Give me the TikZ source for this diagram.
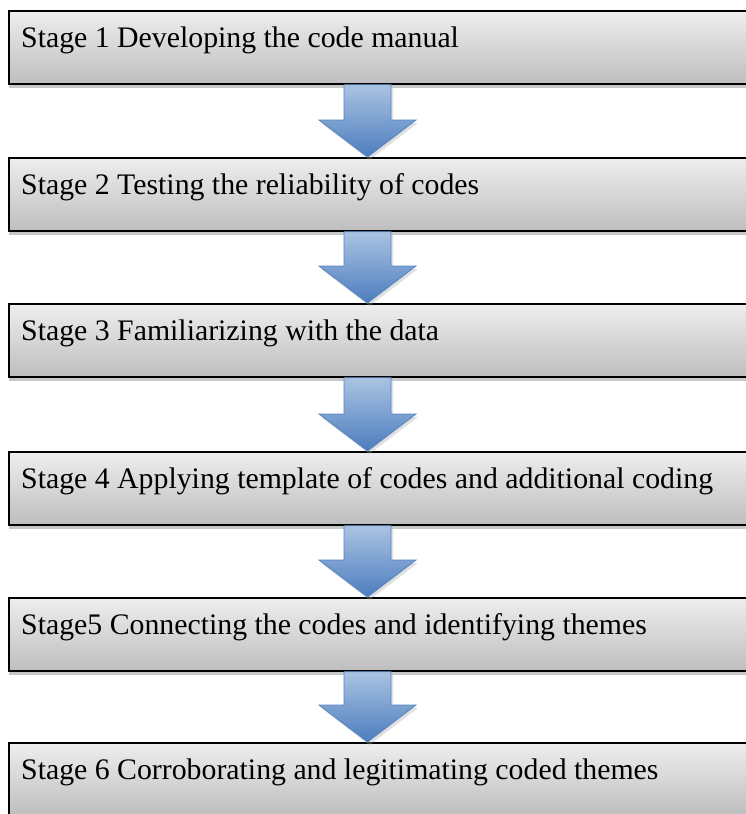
\documentclass[tikz,border=0pt]{standalone}
\usepackage{fontspec}
\setmainfont{Liberation Serif}
\usetikzlibrary{calc,shadows}
\definecolor{boxtop}{HTML}{EEEEEE}
\definecolor{boxbot}{HTML}{BEBEBE}
\definecolor{arrtop}{HTML}{AAC3E2}
\definecolor{arrbot}{HTML}{4C7DBE}
\definecolor{arredge}{HTML}{5685C2}
\tikzset{
  stagebox/.style={draw=black, line width=1.7pt, top color=boxtop, bottom color=boxbot,
    minimum width=760pt, minimum height=73pt, anchor=north west, inner sep=0pt,
    drop shadow={shadow xshift=0pt, shadow yshift=-4pt, fill=black!22, opacity=1}},
  stagetext/.style={anchor=base west, inner sep=0pt, font=\fontsize{29.8pt}{32pt}\selectfont},
  flowarrow/.style={top color=arrtop, bottom color=arrbot, draw=arredge, line width=0.8pt,
    line join=miter,
    drop shadow={shadow xshift=2pt, shadow yshift=-3pt, fill=black!35, opacity=0.35}},
}
\begin{document}
\begin{tikzpicture}[x=1pt,y=-1pt]
\useasboundingbox (0,0) rectangle (746,814);
\clip (0,0) rectangle (746,814);
\coordinate (col) at (367.5,0);
\foreach \i/\t in {1/10,2/157,3/303,4/451,5/597,6/742}{
  \node[stagebox] (s\i) at (8,\t) {};
}
\node[stagetext] (t1) at ($(s1.north west)+(13,37)$) {Stage 1 Developing the code manual};
\node[stagetext] (t2) at ($(s2.north west)+(13,37)$) {Stage 2 Testing the reliability of codes};
\node[stagetext] (t3) at ($(s3.north west)+(13,37)$) {Stage 3 Familiarizing with the data};
\node[stagetext] (t4) at ($(s4.north west)+(13,37)$) {Stage 4 Applying template of codes and additional coding};
\node[stagetext] (t5) at ($(s5.north west)+(13,37)$) {Stage5 Connecting the codes and identifying themes};
\node[stagetext] (t6) at ($(s6.north west)+(13,37)$) {Stage 6 Corroborating and legitimating coded themes};
\foreach \a/\b in {1/2,2/3,3/4,4/5,5/6}{
  \path[flowarrow] let \p1=(s\a.south -| col), \p2=(s\b.north -| col) in
    (\x1-23.5,\y1) -- (\x1+23.5,\y1) -- (\x1+23.5,\y2+37) -- (\x1+48.5,\y2+37)
    -- (\x1,\y2) -- (\x1-48.5,\y2+37) -- (\x1-23.5,\y2+37) -- cycle;
}
\end{tikzpicture}
\end{document}
